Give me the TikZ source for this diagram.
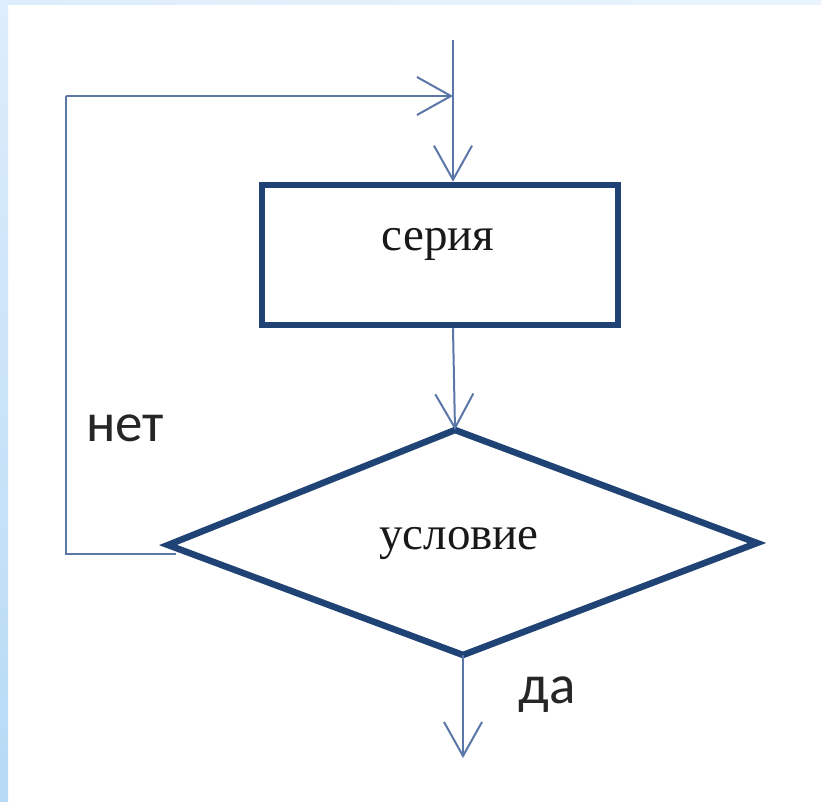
\documentclass[tikz,border=0pt]{standalone}
\usepackage{fontspec}
\setmainfont{Liberation Serif}
\newfontfamily\calib{Carlito}
\usetikzlibrary{arrows.meta}
\definecolor{thickblue}{HTML}{1F4375}
\definecolor{thinblue}{HTML}{5B77A8}
\definecolor{stripA}{HTML}{DDEDFB}
\definecolor{stripB}{HTML}{B6DAF5}
\tikzset{
  boxline/.style={draw=thickblue, line width=6.5pt},
  conn/.style={draw=thinblue, line width=2pt},
  arr/.style={conn, -{Straight Barb[length=34pt,width=38pt,line width=2pt]}},
  lbl/.style={font=\calib\fontsize{55}{60}\selectfont, inner sep=0pt, text=black!85},
  inner/.style={font=\fontsize{47}{52}\selectfont, inner sep=0pt, text=black!90},
}
\begin{document}
\begin{tikzpicture}[x=1pt,y=-1pt]
\useasboundingbox (0,0) rectangle (821,802);
\fill[white] (0,0) rectangle (821,802);
\shade[top color=stripA, bottom color=stripB] (0,0) rectangle (8,802);
\shade[left color=stripA, right color=stripA!60!white] (0,0) rectangle (821,5);
% coordinates
\coordinate (start) at (453,40);
\coordinate (loopjoin) at (453,96);
\coordinate (loopTL) at (66,96);
\coordinate (loopBL) at (66,554);
\coordinate (loopend) at (176,554);
\coordinate (dT) at (455,430);
\coordinate (dR) at (757,543);
\coordinate (dB) at (463,655);
\coordinate (dL) at (168,545);
\coordinate (endpt) at (463,758);
% series box
\node[boxline, minimum width=356pt, minimum height=140pt, inner sep=0pt] (box) at (440,255) {};
\node[inner] (boxtext) at (438,244) {серия};
% diamond
\draw[boxline, line join=miter] (dT) -- (dR) -- (dB) -- (dL) -- cycle;
\node[inner] (cond) at (459,543) {условие};
% connectors
\draw[conn] (start) -- (loopjoin);
\draw[arr] (loopjoin) -- (loopjoin |- box.north);
\draw[arr] (box.south -| loopjoin) -- (dT);
\draw[conn] (loopend) -- (loopBL) -- (loopTL);
\draw[arr] (loopTL) -- (loopjoin);
\draw[arr] (dB) -- (endpt);
% labels
\node[lbl] (no) at (125,428) {нет};
\node[lbl] (yes) at (547,695) {да};
\end{tikzpicture}
\end{document}
